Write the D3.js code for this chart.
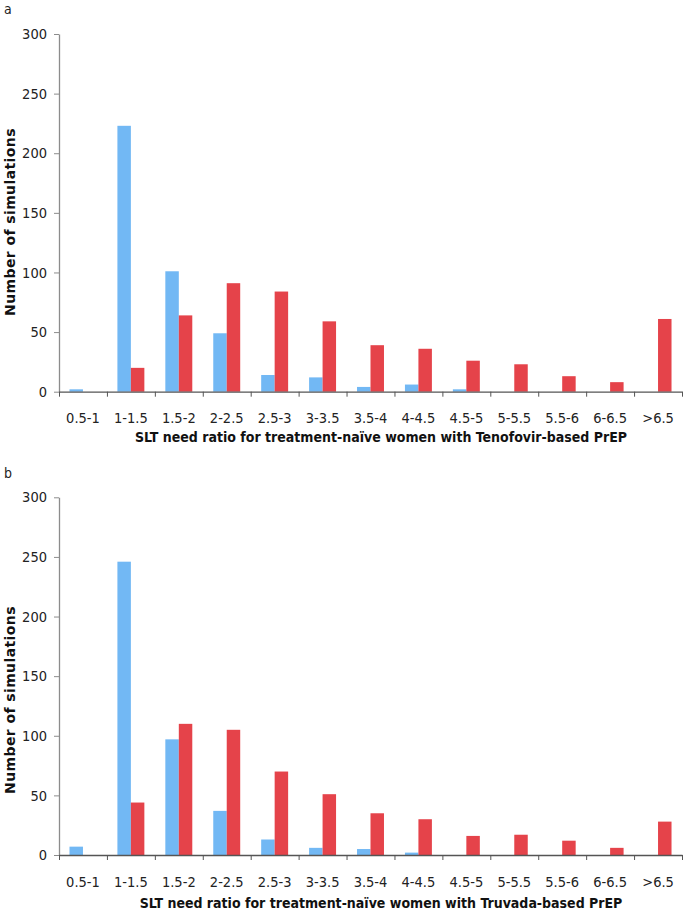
<!DOCTYPE html>
<html>
<head>
<meta charset="utf-8">
<script src="https://cdn.jsdelivr.net/npm/d3@7"></script>
<style>
  body { margin: 0; background: #fff; }
  svg { display: block; font-family: "DejaVu Sans Condensed", "DejaVu Sans", sans-serif; }
</style>
</head>
<body>
<div id="chart"></div>
<script>
// bins of the SLT need ratio
var categories = ["0.5-1", "1-1.5", "1.5-2", "2-2.5", "2.5-3", "3-3.5", "3.5-4",
                  "4-4.5", "4.5-5", "5-5.5", "5.5-6", "6-6.5", ">6.5"];
var yTicks = [0, 50, 100, 150, 200, 250, 300];

// panel a - Tenofovir-based PrEP
var tenofovirBlue = [2, 223, 101, 49, 14, 12, 4, 6, 2, 0, 0, 0, 0];
var tenofovirRed  = [0, 20, 64, 91, 84, 59, 39, 36, 26, 23, 13, 8, 61];

// panel b - Truvada-based PrEP
var truvadaBlue = [7, 246, 97, 37, 13, 6, 5, 2, 0, 0, 0, 0, 0];
var truvadaRed  = [0, 44, 110, 105, 70, 51, 35, 30, 16, 17, 12, 6, 28];

var colors = { blue: "#72b8f4", red: "#e5434a" };

var svgWidth = 685, svgHeight = 913;
var font = "DejaVu Sans Condensed, DejaVu Sans, sans-serif";

var svg = d3.select("#chart")
    .append("svg")
    .attr("width", svgWidth)
    .attr("height", svgHeight);

var panels = [
    { letter: "a", blue: tenofovirBlue, red: tenofovirRed, top: 34, bottom: 391.7,
      title: "SLT need ratio for treatment-naïve women with Tenofovir-based PrEP",
      letterY: 14, yTitleMid: 222, labelPad: 21, titleOff: 50.5 },
    { letter: "b", blue: truvadaBlue, red: truvadaRed, top: 497.3, bottom: 855,
      title: "SLT need ratio for treatment-naïve women with Truvada-based PrEP",
      letterY: 478, yTitleMid: 700, labelPad: 21.5, titleOff: 53 }
];

var left = 59, right = 682;

panels.forEach(function (p) {
    var x = d3.scaleBand().domain(categories).range([left, right]).paddingInner(0).paddingOuter(0);
    var xEdges = d3.scaleLinear().domain([0, categories.length]).range([left, right]);
    var xSub = d3.scaleBand().domain(["blue", "red"]).range([0, x.bandwidth()])
        .paddingInner(0).paddingOuter(0.778);
    var y = d3.scaleLinear().domain([0, 300]).range([p.bottom, p.top]);

    var g = svg.append("g");

    // panel letter
    g.append("text")
        .attr("x", 4)
        .attr("y", p.letterY)
        .attr("font-family", font)
        .attr("font-size", 14)
        .attr("fill", "#222")
        .text(p.letter);

    // bars
    var rows = categories.map(function (c, i) {
        return { cat: c, blue: p.blue[i], red: p.red[i] };
    });

    var groups = g.selectAll(".grp")
        .data(rows)
        .enter().append("g")
        .attr("class", "grp")
        .attr("transform", d => "translate(" + x(d.cat) + ",0)");

    groups.selectAll("rect")
        .data(d => ["blue", "red"].map(k => ({ key: k, value: d[k] })))
        .enter().append("rect")
        .attr("x", d => xSub(d.key))
        .attr("width", xSub.bandwidth())
        .attr("y", d => y(d.value))
        .attr("height", d => y(0) - y(d.value))
        .attr("fill", d => colors[d.key]);

    // y axis
    var yAxis = g.append("g")
        .attr("transform", "translate(" + left + ",0)")
        .call(d3.axisLeft(y).tickValues(yTicks).tickSize(5).tickSizeOuter(0).tickPadding(7));
    yAxis.select(".domain").attr("stroke", "#8c8c8c").attr("stroke-width", 1.3);
    yAxis.selectAll(".tick line").attr("stroke", "#8c8c8c");
    yAxis.selectAll("text")
        .attr("font-family", font)
        .attr("font-size", 14.5)
        .attr("fill", "#222");

    // x axis: boundary ticks
    var xTickAxis = g.append("g")
        .attr("transform", "translate(0," + y(0) + ")")
        .call(d3.axisBottom(xEdges).ticks(categories.length).tickSize(5).tickSizeOuter(0).tickFormat(""));
    xTickAxis.select(".domain").attr("stroke", "#555").attr("stroke-width", 1.3);
    xTickAxis.selectAll(".tick line").attr("stroke", "#555");

    // x axis: category labels
    var xLabelAxis = g.append("g")
        .attr("transform", "translate(0," + y(0) + ")")
        .call(d3.axisBottom(x).tickSize(0).tickPadding(p.labelPad));
    xLabelAxis.select(".domain").remove();
    xLabelAxis.selectAll("text")
        .attr("font-family", font)
        .attr("font-size", 14.5)
        .attr("fill", "#222");

    // x title
    g.append("text")
        .attr("x", 381)
        .attr("y", y(0) + p.titleOff)
        .attr("text-anchor", "middle")
        .attr("font-family", font)
        .attr("font-weight", "bold")
        .attr("font-size", 14)
        .attr("fill", "#111")
        .text(p.title);

    // y title
    g.append("text")
        .attr("transform", "translate(15," + p.yTitleMid + ") rotate(-90)")
        .attr("text-anchor", "middle")
        .attr("font-family", "DejaVu Sans, sans-serif")
        .attr("font-weight", "bold")
        .attr("font-size", 14)
        .attr("letter-spacing", 0.4)
        .attr("fill", "#111")
        .text("Number of simulations");
});
</script>
</body>
</html>
